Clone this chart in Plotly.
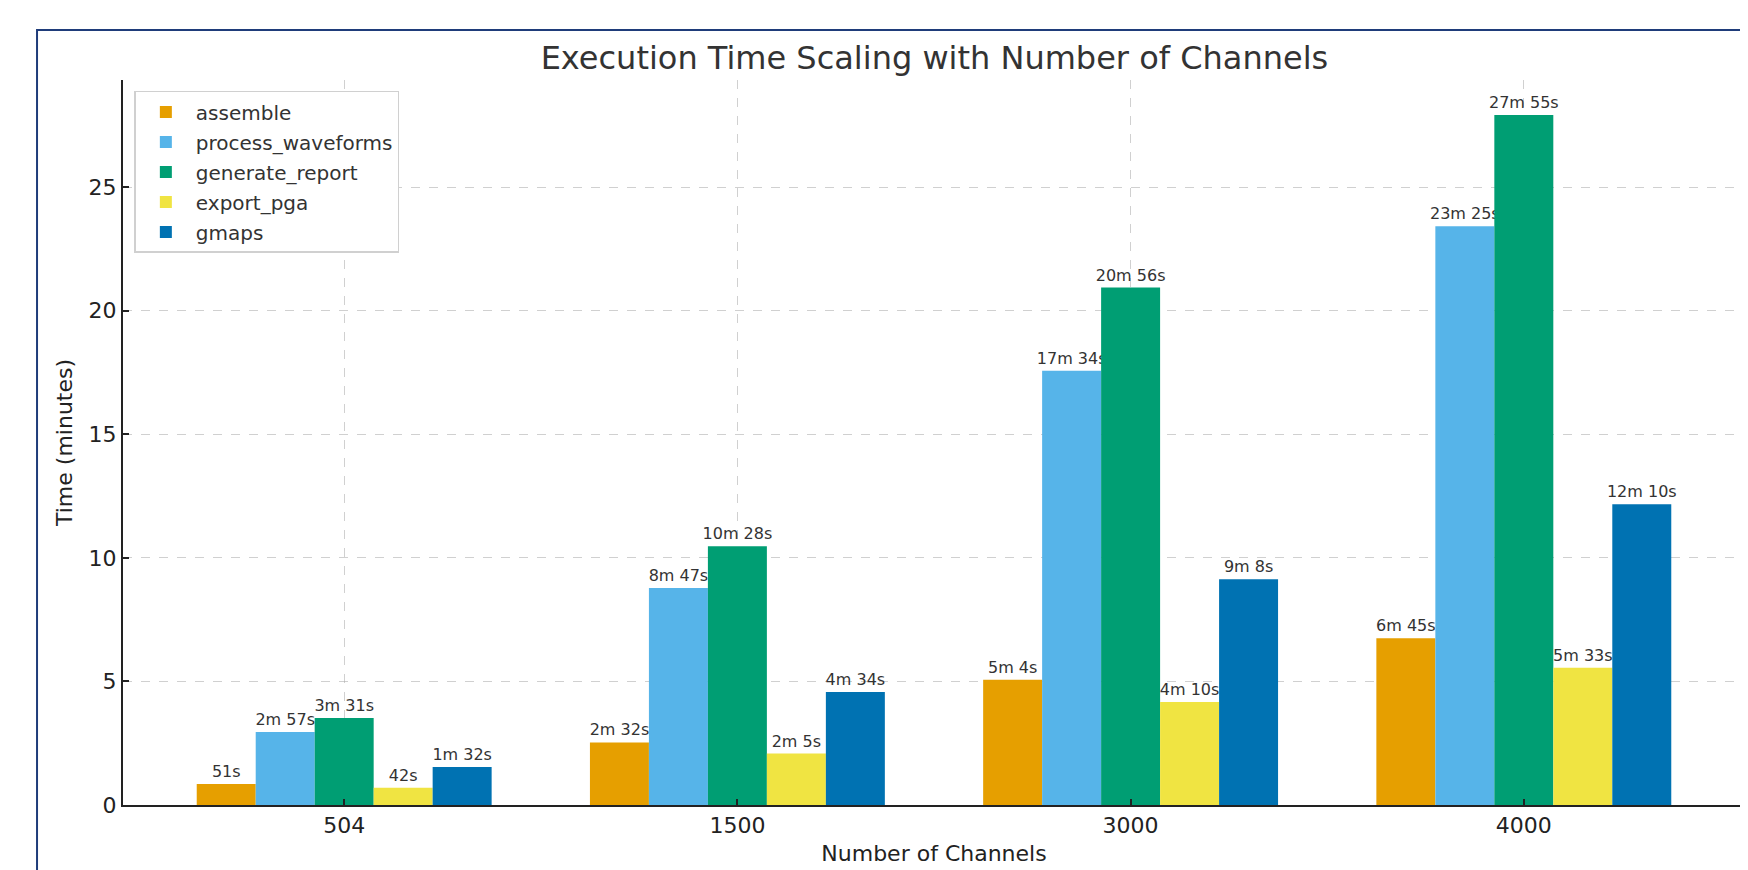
import plotly.graph_objects as go

# Data: execution time in seconds per step, for each channel count
channels = ["504", "1500", "3000", "4000"]
assemble = [51, 152, 304, 405]
process_waveforms = [177, 527, 1054, 1405]
generate_report = [211, 628, 1256, 1675]
export_pga = [42, 125, 250, 333]
gmaps = [92, 274, 548, 730]

series_names = ["assemble", "process_waveforms", "generate_report", "export_pga", "gmaps"]
series_values = [assemble, process_waveforms, generate_report, export_pga, gmaps]
colors = ["#E69F00", "#56B4E9", "#009E73", "#F0E442", "#0072B2"]


def fmt(sec):
    m, s = divmod(sec, 60)
    return f"{m}m {s}s" if m else f"{s}s"


fig = go.Figure()
for name, vals, col in zip(series_names, series_values, colors):
    fig.add_trace(go.Bar(
        x=channels, y=[v / 60 for v in vals], name=name,
        marker=dict(color=col, line=dict(width=0)),
        text=[fmt(v) for v in vals], textposition="outside",
        textfont=dict(size=16, color="#333333"),
        constraintext="none", cliponaxis=False, legendgroup=name,
    ))

# dark frame around the figure (cropped on right/bottom)
fig.add_shape(type="rect", xref="paper", yref="paper",
              x0=-0.053, x1=1.02, y0=-0.3, y1=1.069,
              line=dict(color="#1f3c7a", width=2), fillcolor="rgba(0,0,0,0)", layer="below")

# page body has an 8px margin, so margins are offset to land the plot where the reference has it
fig.update_layout(
    width=1748, height=870,
    margin=dict(l=115, r=11, t=72, b=73, autoexpand=False),
    paper_bgcolor="white", plot_bgcolor="white",
    font=dict(family="DejaVu Sans", color="#222222"),
    title=dict(text="Execution Time Scaling with Number of Channels",
               x=0.53, xanchor="center", y=0.9425, yanchor="middle",
               font=dict(size=32, color="#333333")),
    barmode="group", bargap=0.25, bargroupgap=0,
    legend=dict(x=0.007, y=0.985, xanchor="left", yanchor="top",
                bgcolor="white", bordercolor="#d0d0d0", borderwidth=1.5,
                font=dict(size=20, color="#333333"), tracegroupgap=1,
                itemwidth=50),
    showlegend=True,
)

fig.update_xaxes(
    type="category", range=[-0.5625, 3.5625], automargin=False,
    showline=True, linecolor="#222222", linewidth=2,
    ticks="inside", ticklen=6, tickwidth=1.5, tickcolor="#222222",
    tickfont=dict(size=22, color="#222222"),
    showgrid=True, gridcolor="rgba(170,170,170,0.55)", griddash="dash", gridwidth=1,
    layer="above traces",
    title=dict(text="Number of Channels", font=dict(size=22, color="#222222"), standoff=8),
)
fig.update_yaxes(
    range=[0, 29.33], tickvals=[0, 5, 10, 15, 20, 25], automargin=False,
    showline=True, linecolor="#222222", linewidth=2, zeroline=False,
    ticks="inside", ticklen=6, tickwidth=1.5, tickcolor="#222222",
    tickfont=dict(size=22, color="#222222"),
    showgrid=True, gridcolor="rgba(170,170,170,0.55)", griddash="dash", gridwidth=1,
    layer="above traces",
    title=dict(text="Time (minutes)", font=dict(size=22, color="#222222"), standoff=10),
)

fig.write_html("out.html")
